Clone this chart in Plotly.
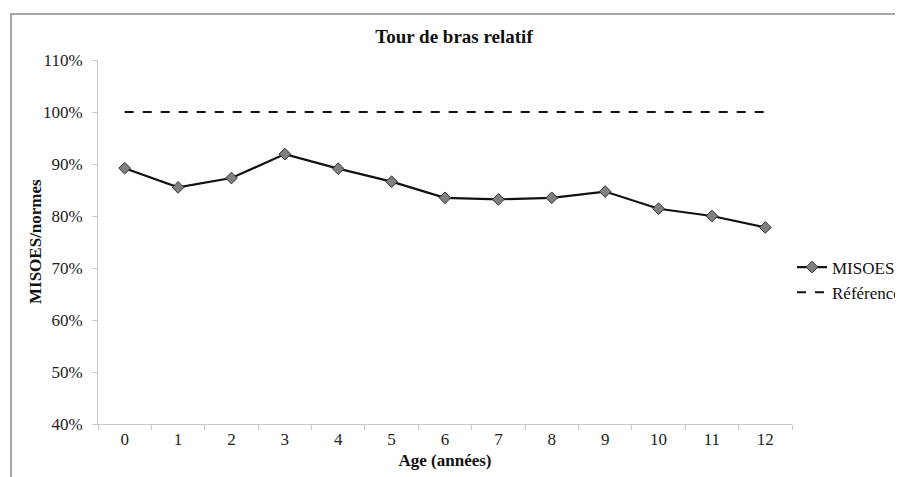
import plotly.graph_objects as go

ages = [str(i) for i in range(13)]
misoes = [89.2, 85.5, 87.3, 91.9, 89.1, 86.6, 83.5, 83.2, 83.5, 84.7, 81.4, 80.0, 77.8]
reference = [100] * 13
y_ticks = [40, 50, 60, 70, 80, 90, 100, 110]
y_tick_labels = [f"{v}%" for v in y_ticks]

FONT = "Liberation Serif"

fig = go.Figure()
fig.add_trace(go.Scatter(
    x=ages, y=misoes, name="MISOES", mode="lines+markers",
    line=dict(color="#111111", width=2.2),
    marker=dict(symbol="diamond", size=9, color="#808080",
                line=dict(color="#333333", width=1)),
))
fig.add_trace(go.Scatter(
    x=ages, y=reference, name="Référence", mode="lines",
    line=dict(color="#111111", width=2, dash="dash"),
))

# page body has an 8px margin: figure coords = screen coords - 8
OFF = 8
W, H = 903 - OFF, 477 - OFF
L, T = 98 - OFF, 60 - OFF
R = W - (792 - OFF)
B = H - (424 - OFF)
pw, ph = W - L - R, H - T - B

fig.update_layout(
    width=W, height=H,
    margin=dict(l=L, r=R, t=T, b=B, autoexpand=False),
    paper_bgcolor="white", plot_bgcolor="white",
    font=dict(family=FONT, size=17, color="#222222"),
    title=dict(text="<b>Tour de bras relatif</b>", x=(454 - OFF - L) / pw, xref="paper",
               xanchor="center", y=1 - (36 - OFF) / H, yanchor="middle",
               font=dict(family=FONT, size=19, color="#111111")),
    showlegend=True,
    legend=dict(x=1.0, xanchor="left", y=(424 - 280) / 364, yanchor="middle",
                font=dict(family=FONT, size=17, color="#111111"),
                bgcolor="rgba(0,0,0,0)", itemwidth=30, tracegroupgap=0),
    xaxis=dict(
        type="category", tickmode="array", tickvals=ages, ticktext=ages,
        showgrid=False, zeroline=False, automargin=False,
        showline=True, linecolor="#c8c8c8", linewidth=1,
        ticks="outside", ticklen=5, tickcolor="#c8c8c8",
        tickson="boundaries",
        range=[-0.5, 12.5],
        tickfont=dict(family=FONT, size=17, color="#222222"),
        title=dict(text="<b>Age (années)</b>", standoff=5,
                   font=dict(family=FONT, size=17, color="#111111")),
    ),
    yaxis=dict(
        range=[40, 110], tickmode="array", tickvals=y_ticks, ticktext=y_tick_labels,
        showgrid=False, zeroline=False, automargin=False,
        showline=True, linecolor="#c8c8c8", linewidth=1,
        ticks="outside", ticklen=5, tickcolor="#c8c8c8",
        tickfont=dict(family=FONT, size=17, color="#222222"),
        ticklabelstandoff=6,
    ),
)

# y-axis title placed like the original
fig.add_annotation(text="<b>MISOES/normes</b>", xref="paper", yref="paper",
                   x=(35 - OFF - L) / pw, y=0.5, xanchor="center", yanchor="middle",
                   textangle=-90, showarrow=False,
                   font=dict(family=FONT, size=17, color="#111111"))

# outer chart border (left and top visible)
fig.add_shape(type="rect", xref="paper", yref="paper",
              x0=(11 - OFF - L) / pw, x1=(W + 20 - L) / pw,
              y0=-(H + 20 - T - ph) / ph, y1=1 + (T - (14 - OFF)) / ph,
              line=dict(color="#8a8a8a", width=1.5), fillcolor="rgba(0,0,0,0)",
              layer="below")

fig.write_html("out.html")
